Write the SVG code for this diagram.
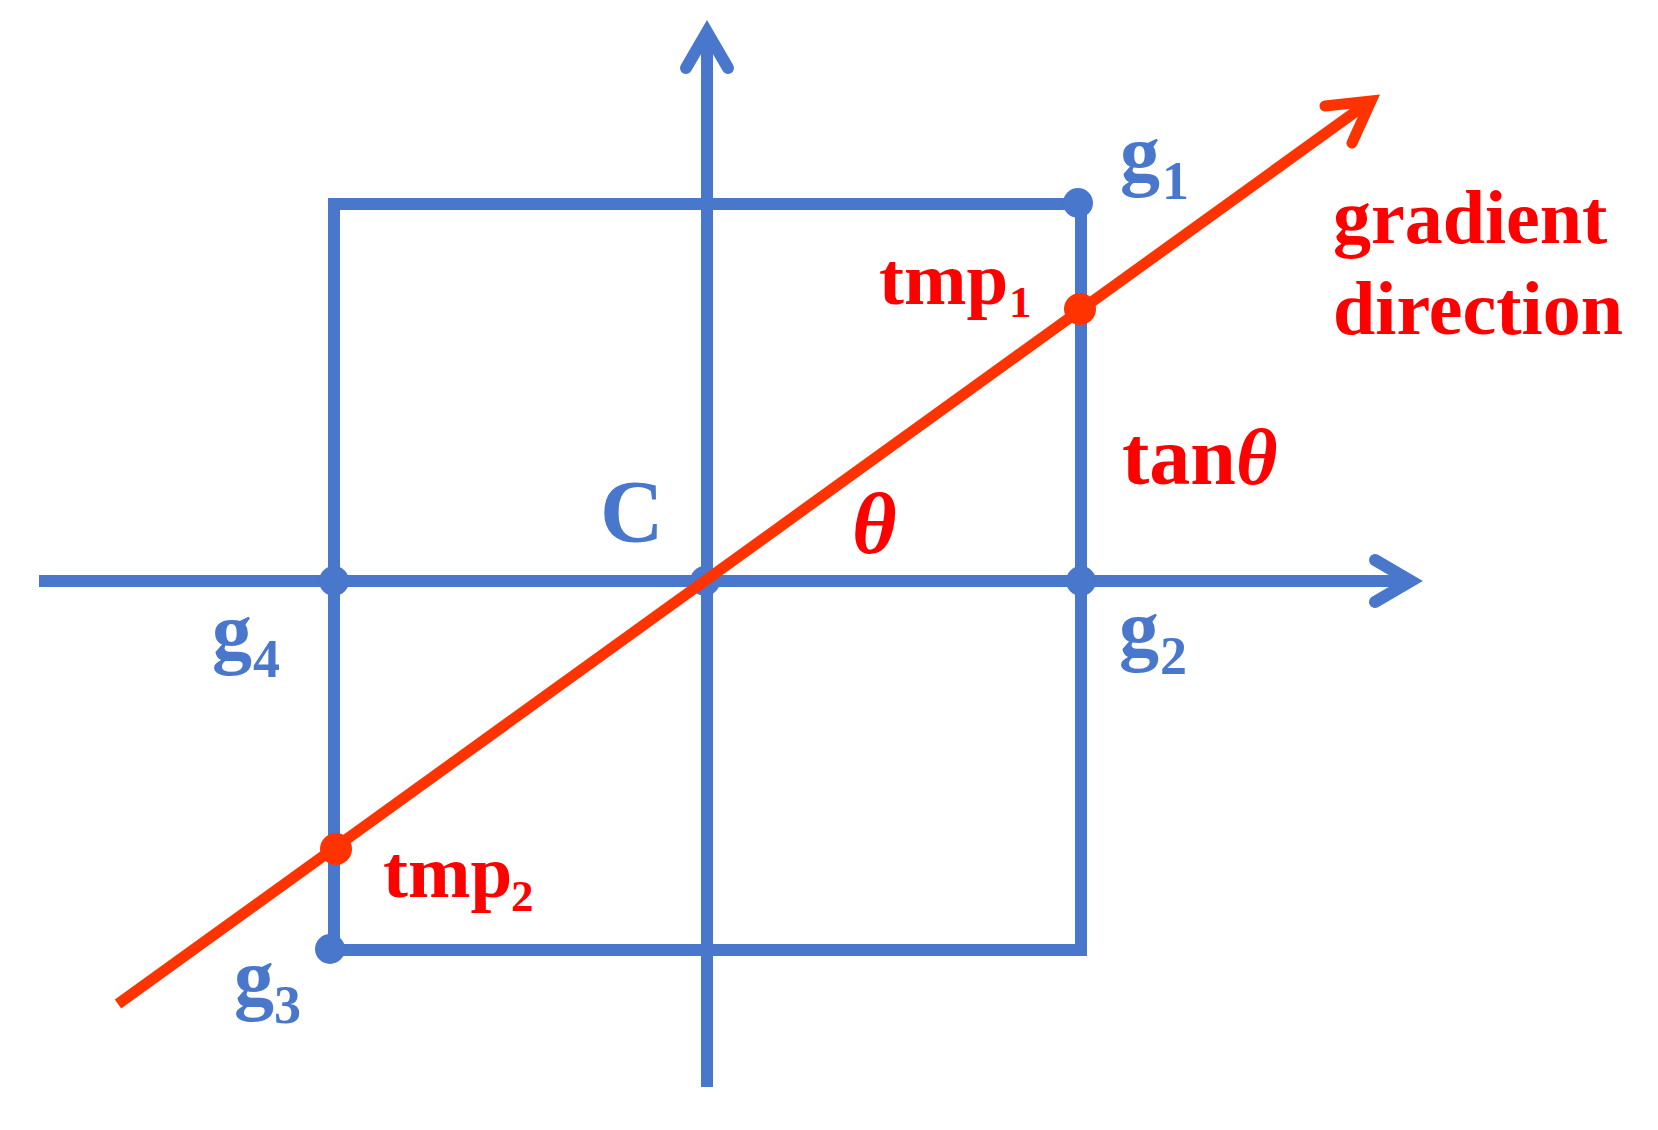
<svg xmlns="http://www.w3.org/2000/svg" width="1658" height="1130" viewBox="0 0 1658 1130">
<style>
.b{stroke:#4877CC;stroke-width:12;fill:none}
.ah{stroke-linejoin:miter;stroke-linecap:round}
.r{stroke:#FF3300;stroke-width:11;fill:none}
.bd{fill:#4877CC}
.rd{fill:#FF3300}
.t{font-family:"Liberation Serif","Times New Roman",serif;font-weight:bold}
.bt{fill:#4877CC}
.rt{fill:#FF0000}
</style>
<rect width="1658" height="1130" fill="#fff"/>
<g id="connectors">
<rect id="box" class="b" x="334" y="204" width="747" height="746"/>
<line class="b" x1="707" y1="1087" x2="707" y2="34"/>
<polyline class="b ah" points="686,68 707,32 728,68"/>
<line class="b" x1="39" y1="581" x2="1409" y2="581"/>
<polyline class="b ah" points="1375,560 1411,581 1375,602"/>
</g>
<g id="g1"><circle class="bd" cx="1078" cy="203" r="15"/><text class="t bt" x="1120" y="181" font-size="80">g<tspan x="1162" y="199" font-size="54">1</tspan></text></g>
<g id="g2"><circle class="bd" cx="1081" cy="581" r="15"/><text class="t bt" x="1119" y="656" font-size="80">g<tspan x="1160" y="674" font-size="54">2</tspan></text></g>
<g id="g3"><circle class="bd" cx="330" cy="949" r="15"/><text class="t bt" x="234" y="1005" font-size="80">g<tspan x="274" y="1023" font-size="54">3</tspan></text></g>
<g id="g4"><circle class="bd" cx="334" cy="581" r="15"/><text class="t bt" x="212" y="659" font-size="80">g<tspan x="253" y="677" font-size="54">4</tspan></text></g>
<g id="C"><circle class="bd" cx="705" cy="581" r="15"/><text class="t bt" x="600" y="541" font-size="88">C</text></g>
<g id="gradient">
<line class="r" x1="118" y1="1004" x2="1369" y2="102"/>
<polyline class="r ah" points="1325,106 1371,101 1352,143"/>
<text class="t rt" x="1333" y="243" font-size="76">gradient</text>
<text class="t rt" x="1333" y="334" font-size="76">direction</text>
</g>
<g id="tmp1"><circle class="rd" cx="1080" cy="309" r="16"/><text class="t rt" x="879" y="304" font-size="75">tmp<tspan x="1009" y="317" font-size="45">1</tspan></text></g>
<g id="tmp2"><circle class="rd" cx="336" cy="849" r="16"/><text class="t rt" x="383" y="897" font-size="75">tmp<tspan x="511" y="911" font-size="45">2</tspan></text></g>
<g id="theta"><text class="t rt" x="852" y="553" font-size="86" font-style="italic">θ</text></g>
<g id="tan"><text class="t rt" x="1122" y="484" font-size="82">tan<tspan font-style="italic" font-size="80">θ</tspan></text></g>
</svg>
